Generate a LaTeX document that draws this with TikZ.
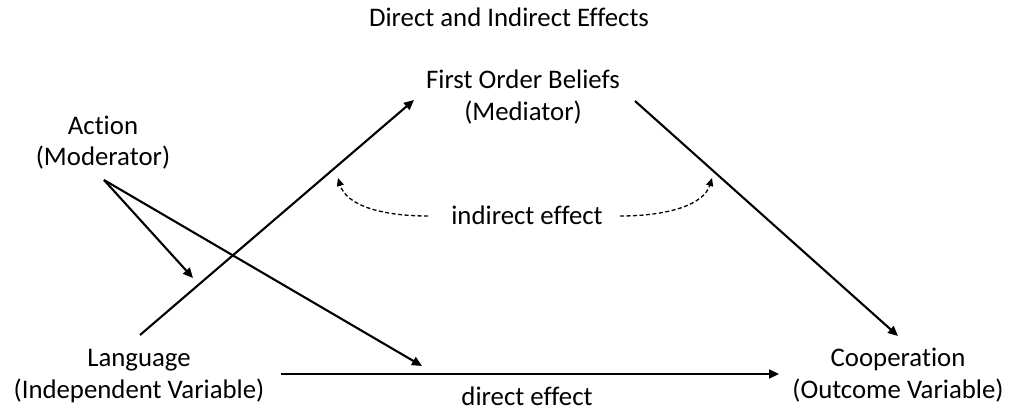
\documentclass[tikz,border=0pt]{standalone}
\usepackage{fontspec}
\setmainfont{Carlito}[Ligatures=NoCommon]
\usetikzlibrary{arrows.meta}
\begin{document}
\begin{tikzpicture}[x=1pt,y=-1pt,
  lbl/.style={inner sep=0pt,anchor=base,align=center,font=\fontsize{26.8}{32}\selectfont},
  solidarrow/.style={line width=2.1pt,-{Triangle[length=10pt,width=9pt]}},
  dasharrow/.style={line width=1.3pt,dash pattern=on 4pt off 2.5pt,-{Triangle[length=8pt,width=7pt]}}]
\useasboundingbox (0,0) rectangle (1011,414);
% texts
\node[lbl] (title) at (509,27) {Direct and Indirect Effects};
\node[lbl] (action) at (103,166) {Action\\(Moderator)};
\node[lbl] (beliefs) at (523,121) {First Order Beliefs\\(Mediator)};
\node[lbl] (language) at (139,398) {Language\\(Independent Variable)};
\node[lbl] (coop) at (898,398) {Cooperation\\(Outcome Variable)};
\node[lbl] (indirect) at (527,224) {indirect effect};
\node[lbl] (direct) at (527,405) {direct effect};
% connector end points
\coordinate (langtop) at (140,335);
\coordinate (belin) at (414,100);
\coordinate (belout) at (635,101);
\coordinate (coopin) at (898,336);
\coordinate (actout) at (104,180);
\coordinate (modtip) at (193,278);
\coordinate (dirtip) at (422,366);
\coordinate (langright) at (281,374);
\coordinate (coopleft) at (779,374);
\coordinate (indl) at (428,216);
\coordinate (indltip) at (338,178);
\coordinate (indr) at (620,216);
\coordinate (indrtip) at (712,178);
% connectors
\draw[solidarrow] (langtop) -- (belin);
\draw[solidarrow] (belout) -- (coopin);
\draw[solidarrow] (actout) -- (modtip);
\draw[solidarrow] (actout) -- (dirtip);
\draw[solidarrow] (langright) -- (coopleft);
\draw[dasharrow] (indl) .. controls (378,216) and (346,204) .. (indltip);
\draw[dasharrow] (indr) .. controls (670,216) and (704,204) .. (indrtip);
\end{tikzpicture}
\end{document}
